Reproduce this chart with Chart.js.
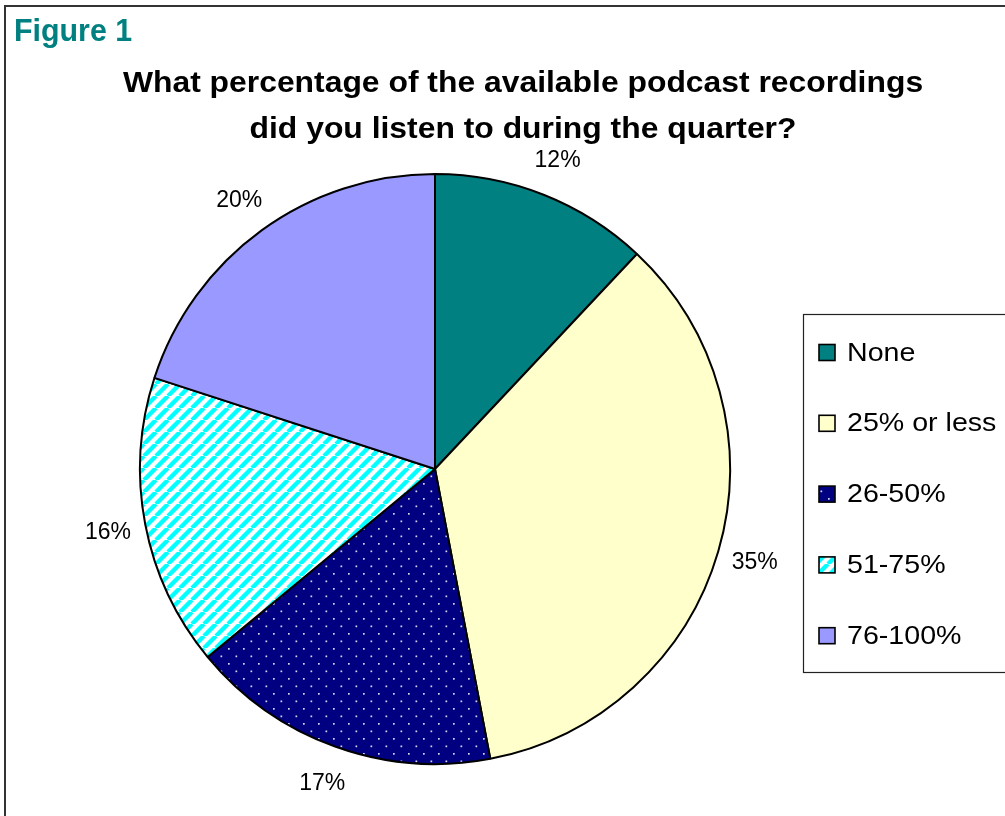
<!DOCTYPE html>
<html>
<head>
<meta charset="utf-8">
<script src="https://cdn.jsdelivr.net/npm/chart.js@4/dist/chart.umd.min.js"></script>
<style>
  html, body { margin: 0; padding: 0; background: #ffffff; }
  canvas { display: block; }
</style>
</head>
<body>
<canvas id="chart" width="1005" height="816"></canvas>
<script>
// Survey answers: share of available podcast recordings listened to
const categories = ['None', '25% or less', '26-50%', '51-75%', '76-100%'];
const percentages = [12, 35, 17, 16, 20];
const figureLabel = 'Figure 1';
const titleLines = ['What percentage of the available podcast recordings', 'did you listen to during the quarter?'];

const FONT = '"Liberation Sans", Arial, Helvetica, sans-serif';

// Fill patterns for the slices
function solid(c) { return c; }
function dotPattern(bg, dot) {
  const c = document.createElement('canvas');
  c.width = 15; c.height = 15;
  const x = c.getContext('2d');
  x.fillStyle = bg; x.fillRect(0, 0, 15, 15);
  x.fillStyle = dot;
  x.fillRect(3, 3, 1.7, 1.7);
  x.fillRect(10.5, 10.5, 1.7, 1.7);
  return x.createPattern(c, 'repeat');
}
function stripePattern(fg, bg) {
  const s = 12;
  const c = document.createElement('canvas');
  c.width = s; c.height = s;
  const x = c.getContext('2d');
  x.fillStyle = bg; x.fillRect(0, 0, s, s);
  x.strokeStyle = fg; x.lineWidth = 4.4;
  x.beginPath();
  for (let k = -1; k <= 1; k++) {
    x.moveTo(k * s, s); x.lineTo(k * s + s, 0);
  }
  x.stroke();
  return x.createPattern(c, 'repeat');
}

const fills = [
  solid('#008080'),
  solid('#FFFFCC'),
  dotPattern('#000080', '#d8d8f4'),
  stripePattern('#00FFFF', '#ffffff'),
  solid('#9999FF')
];

// Text drawn slightly widened horizontally
function wideText(ctx, text, x, y, sx, align) {
  ctx.save();
  ctx.translate(x, y);
  ctx.scale(sx, 1);
  ctx.textAlign = align;
  ctx.fillText(text, 0, 0);
  ctx.restore();
}

// Frame, heading, title, slice labels and legend box
const decorations = {
  id: 'decorations',
  beforeDraw(chart) {
    const ctx = chart.ctx;
    ctx.save();
    ctx.fillStyle = '#ffffff';
    ctx.fillRect(0, 0, chart.width, chart.height);
    ctx.strokeStyle = '#333333';
    ctx.lineWidth = 2;
    ctx.strokeRect(5, 6, chart.width + 20, chart.height + 20);

    ctx.fillStyle = '#008080';
    ctx.font = 'bold 31px ' + FONT;
    ctx.textBaseline = 'alphabetic';
    wideText(ctx, figureLabel, 14, 41, 0.98, 'left');

    ctx.fillStyle = '#000000';
    ctx.font = 'bold 30px ' + FONT;
    wideText(ctx, titleLines[0], 523, 92, 1.062, 'center');
    wideText(ctx, titleLines[1], 523, 138, 1.062, 'center');
    ctx.restore();
  },
  afterDatasetsDraw(chart) {
    const ctx = chart.ctx;
    const meta = chart.getDatasetMeta(0);
    ctx.save();
    ctx.fillStyle = '#000000';
    ctx.font = '23px ' + FONT;
    ctx.textAlign = 'center';
    ctx.textBaseline = 'middle';
    meta.data.forEach((arc, i) => {
      const p = arc.getProps(['x', 'y', 'startAngle', 'endAngle', 'outerRadius'], true);
      const mid = (p.startAngle + p.endAngle) / 2;
      const d = p.outerRadius + 38;
      ctx.fillText(chart.data.datasets[0].data[i] + '%', p.x + Math.cos(mid) * d, p.y + Math.sin(mid) * d + 1);
    });

    // legend
    ctx.fillStyle = '#ffffff';
    ctx.fillRect(803, 314, 220, 358);
    ctx.strokeStyle = '#222222';
    ctx.lineWidth = 1.2;
    ctx.strokeRect(803.5, 314.5, 220, 358);
    ctx.font = '26px ' + FONT;
    ctx.textBaseline = 'middle';
    chart.data.labels.forEach((lab, i) => {
      const y = 352.5 + i * 70.8;
      ctx.fillStyle = chart.data.datasets[0].backgroundColor[i];
      ctx.fillRect(819, y - 8, 16, 16);
      ctx.strokeStyle = '#000000';
      ctx.lineWidth = 1.6;
      ctx.strokeRect(819, y - 8, 16, 16);
      ctx.fillStyle = '#000000';
      wideText(ctx, lab, 847, y + 1, 1.1, 'left');
    });
    ctx.restore();
  }
};

new Chart(document.getElementById('chart'), {
  type: 'pie',
  data: {
    labels: categories,
    datasets: [{
      data: percentages,
      backgroundColor: fills,
      borderColor: '#000000',
      borderWidth: 2
    }]
  },
  options: {
    responsive: false,
    animation: false,
    devicePixelRatio: 1,
    layout: { padding: { left: 139, top: 173, right: 274, bottom: 51 } },
    plugins: {
      legend: { display: false },
      title: { display: false },
      tooltip: { enabled: false }
    }
  },
  plugins: [decorations]
});
</script>
</body>
</html>
